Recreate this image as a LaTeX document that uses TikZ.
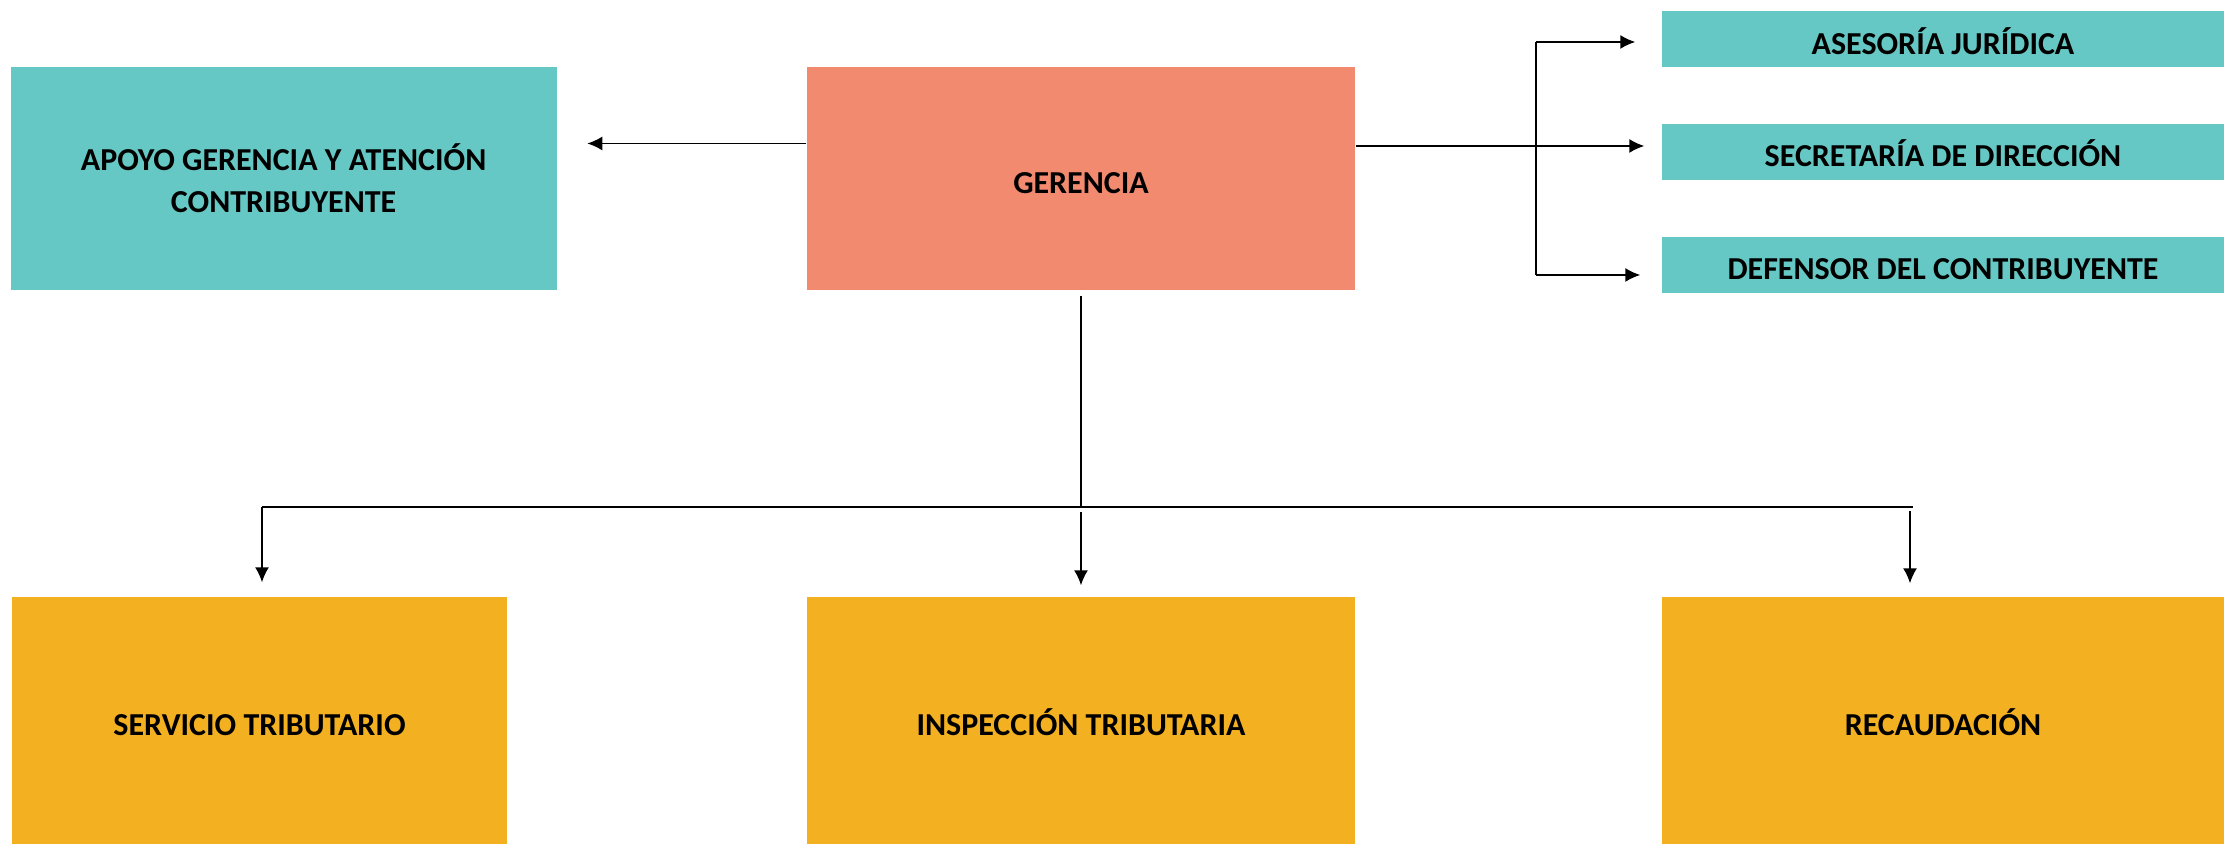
\documentclass[tikz,border=0pt]{standalone}
\usepackage{fontspec}
\setmainfont{Carlito}
\usetikzlibrary{positioning,arrows.meta}

\definecolor{tealbox}{RGB}{102,200,196}
\definecolor{salmonbox}{RGB}{242,138,112}
\definecolor{orangebox}{RGB}{243,176,33}

\begin{document}
\begin{tikzpicture}[
        node distance=0.555cm,
        every node/.style={font=\fontsize{9.1}{12}\selectfont\bfseries},
        unit/.style={rectangle, align=center, inner sep=0pt},
        oneline/.style={text height=8.6pt, text depth=0pt},
        topbox/.style={unit, minimum width=5.48cm, minimum height=2.23cm},
        staffbox/.style={unit, oneline, fill=tealbox, minimum width=5.62cm, minimum height=0.56cm},
        deptbox/.style={unit, oneline, fill=orangebox, minimum height=2.47cm},
        line/.style={-{Latex[length=1.5mm, width=1.4mm]}, line width=0.45pt}
    ]
        \useasboundingbox (0,0) rectangle (22.24,8.44);
        % top row
        \node[topbox, oneline, fill=salmonbox] (gerencia) at (10.81,6.655) {GERENCIA};
        \node[topbox, fill=tealbox, minimum width=5.46cm, left=2.49cm of gerencia] (apoyo) {APOYO GERENCIA Y ATENCIÓN\\CONTRIBUYENTE};
        % staff units on the right
        \node[staffbox] (asesoria) at (19.43,8.05) {ASESORÍA JURÍDICA};
        \node[staffbox, below=of asesoria] (secretaria) {SECRETARÍA DE DIRECCIÓN};
        \node[staffbox, below=of secretaria] (defensor) {DEFENSOR DEL CONTRIBUYENTE};
        % departments
        \node[deptbox, minimum width=5.48cm] (inspeccion) at (10.81,1.235) {INSPECCIÓN TRIBUTARIA};
        \node[deptbox, minimum width=4.95cm] (servicio) at (2.595,1.235) {SERVICIO TRIBUTARIO};
        \node[deptbox, minimum width=5.62cm] (recaudacion) at (19.43,1.235) {RECAUDACIÓN};
        % connectors
        \coordinate (rtop) at (15.36,8.02);
        \coordinate (rbot) at (15.36,5.69);
        \coordinate (hl) at (2.62,3.37);
        \coordinate (hr) at (19.13,3.37);
        \draw[line, shorten >=3mm] ([yshift=3.5mm]gerencia.west) -- ([yshift=3.5mm]apoyo.east);
        \draw[line, shorten >=1.7mm] ([yshift=3.25mm]gerencia.east) -- ([yshift=3.25mm]gerencia.east -| secretaria.west);
        \draw[line width=0.45pt] (rtop) -- (rbot);
        \draw[line, shorten >=2.6mm] (rtop) -- (rtop -| asesoria.west);
        \draw[line, shorten >=2.1mm] (rbot) -- (rbot -| defensor.west);
        \draw[line width=0.45pt, shorten <=0.5mm] (gerencia.south) -- (gerencia.south |- hl);
        \draw[line width=0.45pt] (hl) -- (hr);
        \draw[line, shorten >=1.4mm] (hl) -- (hl |- servicio.north);
        \draw[line, shorten >=1.1mm] ([yshift=-0.5mm]gerencia.south |- hl) -- (gerencia.south |- inspeccion.north);
        \draw[line, shorten >=1.3mm] ([xshift=-0.3mm, yshift=-0.4mm]hr) -- ([xshift=-0.3mm]hr |- recaudacion.north);
    \end{tikzpicture}
\end{document}
